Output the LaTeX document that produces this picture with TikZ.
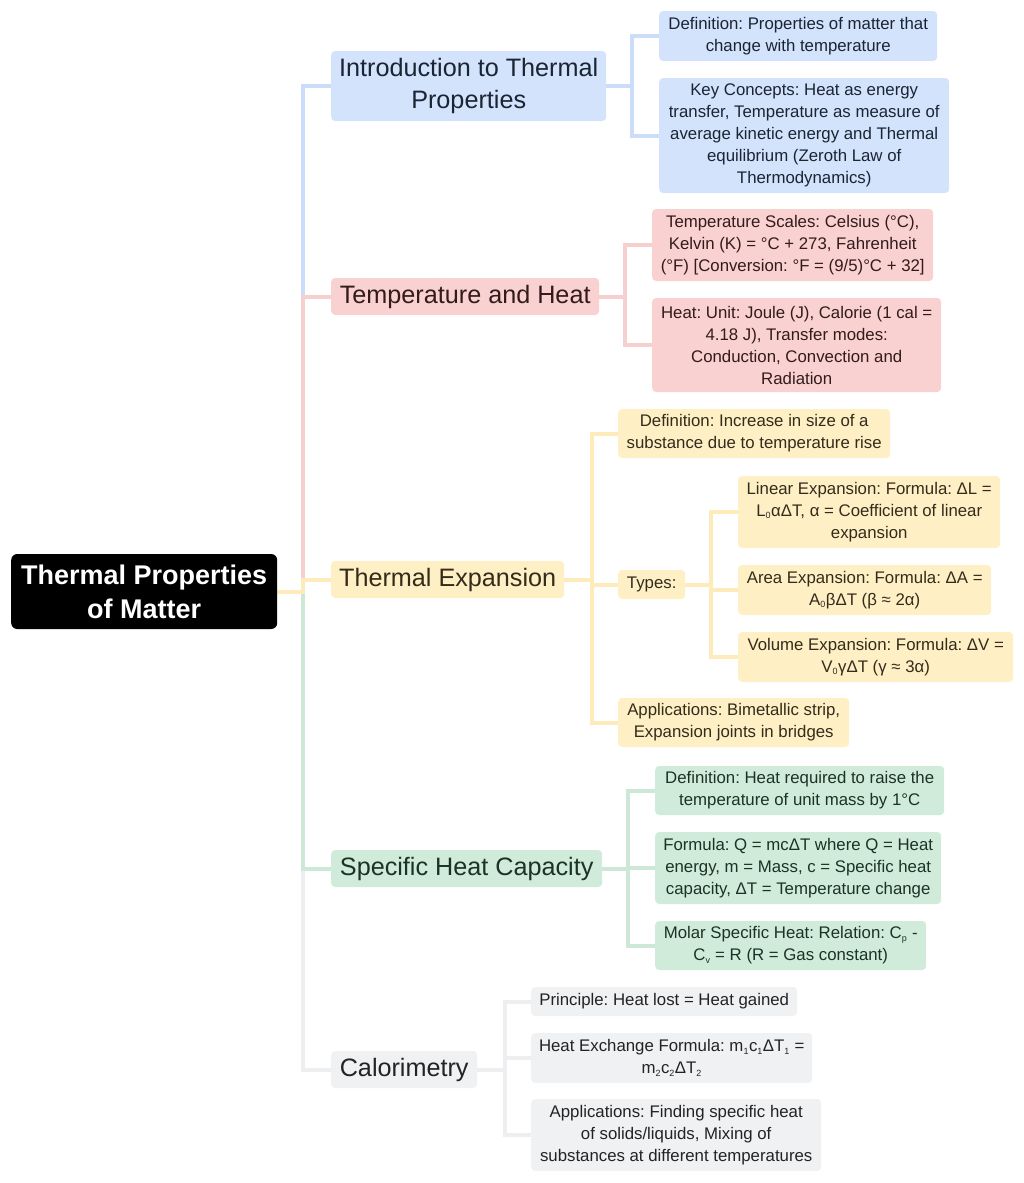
\documentclass[tikz,border=0pt]{standalone}
\usepackage{fontspec}
\setmainfont{Liberation Sans}
\usetikzlibrary{backgrounds}
\frenchspacing
\definecolor{bfill}{HTML}{D3E3FC}
\definecolor{bline}{HTML}{CCDDFA}
\definecolor{btext}{HTML}{1B2433}
\definecolor{rfill}{HTML}{F9D1D0}
\definecolor{rline}{HTML}{F7CFCE}
\definecolor{rtext}{HTML}{331B1B}
\definecolor{yfill}{HTML}{FEEFC5}
\definecolor{yline}{HTML}{FDEBBC}
\definecolor{ytext}{HTML}{332C1B}
\definecolor{gfill}{HTML}{D0EBDA}
\definecolor{gline}{HTML}{CDE8D6}
\definecolor{gtext}{HTML}{1B3324}
\definecolor{kfill}{HTML}{F0F1F3}
\definecolor{kline}{HTML}{EDEEF0}
\definecolor{ktext}{HTML}{222326}
\newcommand{\sbs}[1]{\textsubscript{\fontsize{9}{9}\selectfont #1}}
\tikzset{
  anybox/.style={rounded corners=4pt, inner sep=0pt, align=center, anchor=west},
  small/.style={anybox, font=\fontsize{16.8}{22}\selectfont\frenchspacing},
  big/.style={anybox, font=\fontsize{25.2}{32}\selectfont},
  rootbox/.style={anybox, rounded corners=6pt, fill=black, text=white, font=\fontsize{27}{34}\selectfont\bfseries},
  bb/.style={fill=bfill, text=btext},
  rb/.style={fill=rfill, text=rtext},
  yb/.style={fill=yfill, text=ytext},
  gb/.style={fill=gfill, text=gtext},
  kb/.style={fill=kfill, text=ktext},
  conn/.style={line width=4pt},
}
\begin{document}
\begin{tikzpicture}[x=1pt,y=-1pt]
\useasboundingbox (0,0) rectangle (1024,1183);
% root
\node[rootbox, minimum width=266, minimum height=75] (root) at (11,591.5) {Thermal Properties\\of Matter};
% level 1
\node[big, bb, minimum width=275, minimum height=70] (intro) at (331,86) {Introduction to Thermal\\Properties};
\node[big, rb, minimum width=268, minimum height=37] (temp) at (331,296.5) {Temperature and Heat};
\node[big, yb, minimum width=233, minimum height=37] (te) at (331,579.5) {Thermal Expansion};
\node[big, gb, minimum width=271, minimum height=37] (shc) at (331,868.5) {Specific Heat Capacity};
\node[big, kb, minimum width=146, minimum height=37] (cal) at (331,1069.5) {Calorimetry};
% intro children
\node[small, bb, minimum width=278, minimum height=50] (i1) at (659,36) {Definition: Properties of matter that\\change with temperature};
\node[small, bb, minimum width=290, minimum height=115] (i2) at (659,135.5) {Key Concepts: Heat as energy\\transfer, Temperature as measure of\\average kinetic energy and Thermal\\equilibrium (Zeroth Law of\\Thermodynamics)};
% temp children
\node[small, rb, minimum width=281, minimum height=72] (t1) at (652,245) {Temperature Scales: Celsius (°C),\\Kelvin (K) = °C + 273, Fahrenheit\\(°F) [Conversion: °F = (9/5)°C + 32]};
\node[small, rb, minimum width=289, minimum height=94] (t2) at (652,345) {Heat: Unit: Joule (J), Calorie (1 cal =\\4.18 J), Transfer modes:\\Conduction, Convection and\\Radiation};
% thermal expansion children
\node[small, yb, minimum width=272, minimum height=49] (e1) at (618,433.5) {Definition: Increase in size of a\\substance due to temperature rise};
\node[small, yb, minimum width=67, minimum height=29] (e2) at (618,584.5) {Types:};
\node[small, yb, minimum width=231, minimum height=49] (e3) at (618,722.5) {Applications: Bimetallic strip,\\Expansion joints in bridges};
\node[small, yb, minimum width=262, minimum height=72] (y1) at (738,512) {Linear Expansion: Formula: ΔL =\\L\sbs{0}αΔT, α = Coefficient of linear\\expansion};
\node[small, yb, minimum width=253, minimum height=50] (y2) at (738,590) {Area Expansion: Formula: ΔA =\\A\sbs{0}βΔT (β ≈ 2α)};
\node[small, yb, minimum width=275, minimum height=50] (y3) at (738,657) {Volume Expansion: Formula: ΔV =\\V\sbs{0}γΔT (γ ≈ 3α)};
% specific heat children
\node[small, gb, minimum width=289, minimum height=49] (s1) at (655,790.5) {Definition: Heat required to raise the\\temperature of unit mass by 1°C};
\node[small, gb, minimum width=286, minimum height=72] (s2) at (655,868) {Formula: Q = mcΔT where Q = Heat\\energy, m = Mass, c = Specific heat\\capacity, ΔT = Temperature change};
\node[small, gb, minimum width=271, minimum height=49] (s3) at (655,945.5) {Molar Specific Heat: Relation: C\sbs{p} -\\C\sbs{v} = R (R = Gas constant)};
% calorimetry children
\node[small, kb, minimum width=266, minimum height=29] (c1) at (531,1001.5) {Principle: Heat lost = Heat gained};
\node[small, kb, minimum width=281, minimum height=50] (c2) at (531,1058) {Heat Exchange Formula: m\sbs{1}c\sbs{1}ΔT\sbs{1} =\\m\sbs{2}c\sbs{2}ΔT\sbs{2}};
\node[small, kb, minimum width=290, minimum height=72] (c3) at (531,1135) {Applications: Finding specific heat\\of solids/liquids, Mixing of\\substances at different temperatures};
% junctions
\coordinate (trunk) at (303,591.5);
\coordinate (ji) at (632,86);
\coordinate (jt) at (625,296.5);
\coordinate (je) at (592,579.5);
\coordinate (jy) at (711,584.5);
\coordinate (js) at (628,868.5);
\coordinate (jc) at (505,1069.5);
% connectors
\begin{scope}[on background layer]
\draw[conn, bline] (root.east) -- (trunk) |- (intro.west);
\draw[conn, kline] (root.east) -- (trunk) |- (cal.west);
\draw[conn, rline] (root.east) -- (trunk) |- (temp.west);
\draw[conn, gline] (root.east) -- (trunk) |- (shc.west);
\draw[conn, yline] (root.east) -- (trunk) |- (te.west);
\draw[conn, bline] (intro.east) -- (ji) |- (i1.west);
\draw[conn, bline] (intro.east) -- (ji) |- (i2.west);
\draw[conn, rline] (temp.east) -- (jt) |- (t1.west);
\draw[conn, rline] (temp.east) -- (jt) |- (t2.west);
\draw[conn, yline] (te.east) -- (je) |- (e1.west);
\draw[conn, yline] (te.east) -- (je) |- (e2.west);
\draw[conn, yline] (te.east) -- (je) |- (e3.west);
\draw[conn, yline] (e2.east) -- (jy) |- (y1.west);
\draw[conn, yline] (e2.east) -- (jy) |- (y2.west);
\draw[conn, yline] (e2.east) -- (jy) |- (y3.west);
\draw[conn, gline] (shc.east) -- (js) |- (s1.west);
\draw[conn, gline] (shc.east) -- (js) |- (s2.west);
\draw[conn, gline] (shc.east) -- (js) |- (s3.west);
\draw[conn, kline] (cal.east) -- (jc) |- (c1.west);
\draw[conn, kline] (cal.east) -- (jc) |- (c2.west);
\draw[conn, kline] (cal.east) -- (jc) |- (c3.west);
\end{scope}
\end{tikzpicture}
\end{document}
